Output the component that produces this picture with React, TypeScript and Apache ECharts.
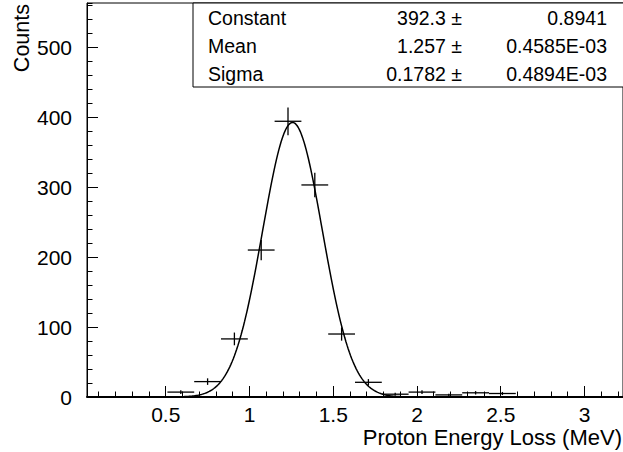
import React, { useEffect, useRef } from "react";
import * as echarts from "echarts";

// Histogram bins (bin centres, MeV) and counts
const binCenters = [0.59, 0.75, 0.91, 1.07, 1.23, 1.39, 1.55, 1.71, 1.87, 2.03, 2.19, 2.35, 2.51];
const counts = [7, 22, 83, 210, 394, 303, 90, 21, 4, 7, 3, 6, 5];
const binWidth = 0.16;

// Fit parameters as printed in the stats box
const fitParamNames = ["Constant", "Mean", "Sigma"];
const fitParamValues = ["392.3", "1.257", "0.1782"];
const fitParamErrors = ["0.8941", "0.4585E-03", "0.4894E-03"];
const fitConstant = 392.3;
const fitMean = 1.257;
const fitSigma = 0.1782;
const fitRange = [0.59, 1.95];

const xRange = [0.03, 3.23];
const yRange = [0, 563];
const xTitle = "Proton Energy Loss (MeV)";
const yTitle = "Counts";

const FONT = "'Liberation Sans', Arial, Helvetica, sans-serif";

export default function App() {
  const ref = useRef<HTMLDivElement>(null);

  useEffect(() => {
    if (!ref.current) return;
    const chart = echarts.init(ref.current, undefined, { renderer: "svg" });

    const barData = binCenters.map((x, i) => [x, counts[i], Math.sqrt(counts[i])]);
    const curveData: number[][] = [];
    const steps = 200;
    for (let i = 0; i <= steps; i++) {
      const x = fitRange[0] + ((fitRange[1] - fitRange[0]) * i) / steps;
      const z = (x - fitMean) / fitSigma;
      curveData.push([x, fitConstant * Math.exp(-0.5 * z * z)]);
    }

    const statsTexts: any[] = [];
    fitParamNames.forEach((name, i) => {
      const cy = 18 + i * 28;
      statsTexts.push({
        type: "text", x: 208, y: cy, z: 20,
        style: { text: name, fontSize: 19.5, fontFamily: FONT, fill: "#000", align: "left", verticalAlign: "middle" },
      });
      statsTexts.push({
        type: "text", x: 462, y: cy, z: 20,
        style: { text: fitParamValues[i] + " \u00b1", fontSize: 19.5, fontFamily: FONT, fill: "#000", align: "right", verticalAlign: "middle" },
      });
      statsTexts.push({
        type: "text", x: 607, y: cy, z: 20,
        style: { text: fitParamErrors[i], fontSize: 19.5, fontFamily: FONT, fill: "#000", align: "right", verticalAlign: "middle" },
      });
    });

    const option: any = {
      animation: false,
      backgroundColor: "#fff",
      grid: {
        left: 87, top: 3, width: 536, height: 394,
        show: true, borderColor: "#000", borderWidth: 1, backgroundColor: "transparent",
      },
      xAxis: [
        {
          type: "value", min: xRange[0], max: xRange[1],
          splitNumber: 6, minInterval: 0.5, maxInterval: 0.5,
          axisLine: { show: true, onZero: false, lineStyle: { color: "#000", width: 2 } },
          axisTick: { show: true, inside: true, length: 11, lineStyle: { color: "#000", width: 1 } },
          axisLabel: { fontSize: 21, fontFamily: FONT, color: "#000", margin: 7, showMinLabel: false, showMaxLabel: false },
          splitLine: { show: false },
        },
        {
          type: "value", min: xRange[0], max: xRange[1], position: "bottom",
          splitNumber: 32, minInterval: 0.1, maxInterval: 0.1,
          axisLine: { show: false, onZero: false },
          axisTick: { show: true, inside: true, length: 5.5, lineStyle: { color: "#000", width: 1 } },
          axisLabel: { show: false },
          splitLine: { show: false },
        },
      ],
      yAxis: [
        {
          type: "value", min: yRange[0], max: yRange[1],
          splitNumber: 6, minInterval: 100, maxInterval: 100,
          axisLine: { show: true, onZero: false, lineStyle: { color: "#000", width: 1 } },
          axisTick: { show: true, inside: true, length: 11, lineStyle: { color: "#000", width: 1 } },
          axisLabel: { fontSize: 21, fontFamily: FONT, color: "#000", margin: 15, showMaxLabel: false },
          splitLine: { show: false },
        },
        {
          type: "value", min: yRange[0], max: yRange[1], position: "left",
          splitNumber: 28, minInterval: 20, maxInterval: 20,
          axisLine: { show: false, onZero: false },
          axisTick: { show: true, inside: true, length: 5.5, lineStyle: { color: "#000", width: 1 } },
          axisLabel: { show: false },
          splitLine: { show: false },
        },
      ],
      series: [
        {
          type: "line", xAxisIndex: 0, yAxisIndex: 0,
          data: curveData, showSymbol: false, symbol: "none",
          lineStyle: { color: "#000", width: 1.5 }, z: 3,
        },
        {
          type: "custom", xAxisIndex: 0, yAxisIndex: 0, z: 4,
          data: barData,
          renderItem: (params: any, api: any) => {
            const x = api.value(0);
            const y = api.value(1);
            const e = api.value(2);
            const l = api.coord([x - binWidth / 2, y]);
            const r = api.coord([x + binWidth / 2, y]);
            const t = api.coord([x, y + e]);
            const b = api.coord([x, y - e]);
            return {
              type: "group",
              children: [
                { type: "line", shape: { x1: l[0], y1: l[1], x2: r[0], y2: r[1] }, style: { stroke: "#000", lineWidth: 1.3 } },
                { type: "line", shape: { x1: t[0], y1: t[1], x2: b[0], y2: b[1] }, style: { stroke: "#000", lineWidth: 1.3 } },
              ],
            };
          },
        },
      ],
      graphic: [
        {
          type: "rect", z: 10,
          shape: { x: 193, y: 3, width: 440, height: 84 },
          style: { fill: "#fff", stroke: "#000", lineWidth: 1 },
        },
        ...statsTexts,
        {
          type: "text", x: 622, y: 437, z: 20,
          style: { text: xTitle, fontSize: 22, fontFamily: FONT, fill: "#000", align: "right", verticalAlign: "middle" },
        },
        {
          type: "text", x: 22, y: 4, rotation: Math.PI / 2, z: 20,
          style: { text: yTitle, fontSize: 21.5, fontFamily: FONT, fill: "#000", align: "right", verticalAlign: "middle" },
        },
      ],
    };

    chart.setOption(option);
    return () => chart.dispose();
  }, []);

  return (
    <div
      ref={ref}
      style={{ position: "absolute", left: 0, top: 0, width: 623, height: 452, background: "#fff" }}
    />
  );
}
